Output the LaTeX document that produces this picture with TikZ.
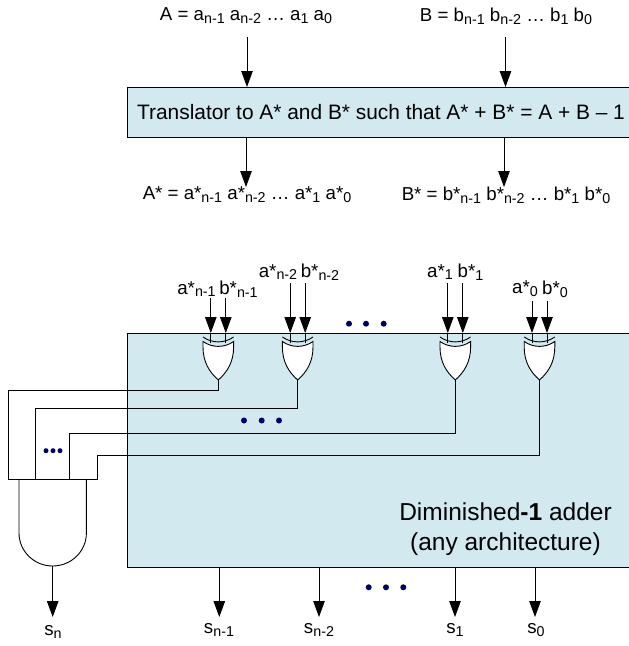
\documentclass[tikz,border=0pt]{standalone}
\usepackage{fontspec}
\setmainfont{Liberation Sans}
\usetikzlibrary{arrows.meta, positioning}
\definecolor{panelblue}{RGB}{210,233,240}
\definecolor{dotblue}{RGB}{0,0,100}
\newcommand{\lo}[1]{\raisebox{-0.28ex}{\fontsize{14.3}{14.3}\selectfont #1}}
% gate body with its two input points and its output point
\newcommand{\xorgate}[2]{%
  \coordinate (#1-a) at (#2-7.5,343);
  \coordinate (#1-b) at (#2+7.5,343);
  \coordinate (#1-out) at (#2,380);
  \draw[gateline] (#2-15.3,337) .. controls (#2-6,343.5) and (#2+6,343.5) .. (#2+15.3,337);
  \draw[gateline, fill=white] (#2-15.3,341.5) .. controls (#2-6,348) and (#2+6,348) .. (#2+15.3,341.5)
    -- (#2+15.3,347) .. controls (#2+15.3,362) and (#2+9,372) .. (#2,380)
    .. controls (#2-9,372) and (#2-15.3,362) .. (#2-15.3,347) -- cycle;
}
\begin{document}
\begin{tikzpicture}[
    x=1pt, y=-1pt,
    panel/.style={rectangle, draw, fill=panelblue, line width=0.9pt, anchor=north west, inner sep=0pt},
    arrow/.style={-{Triangle[length=16pt,width=11.5pt]}, line width=0.8pt},
    wire/.style={line width=0.8pt},
    gateline/.style={line width=0.9pt},
    label/.style={font=\fontsize{18.7}{22}\selectfont, inner sep=0pt},
    dotmark/.style={circle, fill=dotblue, inner sep=0pt, minimum size=6pt}
]
\clip (0,0) rectangle (629,646);

% ==================== TRANSLATOR (Top) ====================
\node[panel, minimum width=502pt, minimum height=50pt] (trans) at (127,87) {};
\node[font=\fontsize{20.9}{24}\selectfont, inner sep=0pt] (transtext) at (381,112) {Translator to A* and B* such that A* + B* = A + B – 1};

\node[label] (inA) at (246,16) {A = a\lo{n-1} a\lo{n-2} … a\lo{1} a\lo{0}};
\node[label] (inB) at (506,16) {B = b\lo{n-1} b\lo{n-2} … b\lo{1} b\lo{0}};
\node[label] (outA) at (247,195) {A* = a*\lo{n-1} a*\lo{n-2} … a*\lo{1} a*\lo{0}};
\node[label] (outB) at (506,195) {B* = b*\lo{n-1} b*\lo{n-2} … b*\lo{1} b*\lo{0}};

\coordinate (inAs) at (247,37);
\coordinate (inBs) at (505.5,37);
\coordinate (inAe) at (247,87);
\coordinate (inBe) at (505.5,87);
\coordinate (outAs) at (246,137);
\coordinate (outBs) at (504,137);
\coordinate (outAe) at (246,187);
\coordinate (outBe) at (504,187);
\draw[arrow] (inAs) -- (inAe);
\draw[arrow] (inBs) -- (inBe);
\draw[arrow] (outAs) -- (outAe);
\draw[arrow] (outBs) -- (outBe);

% ==================== ADDER (Bottom) ====================
\node[panel, minimum width=510pt, minimum height=234pt] (adder) at (127,333) {};
\node[font=\fontsize{24.5}{30}\selectfont, align=center, inner sep=0pt] (addertext) at (505.5,529) {Diminished\textbf{-1} adder\\(any architecture)};

% XOR gates
\xorgate{xa}{218.3}
\xorgate{xb}{297.7}
\xorgate{xc}{455.3}
\xorgate{xd}{539.5}

% Input labels
\node[label] (laa) at (196.5,289) {a*\lo{n-1}};
\node[label] (lab) at (238.5,289) {b*\lo{n-1}};
\node[label] (lba) at (278,272) {a*\lo{n-2}};
\node[label] (lbb) at (320,272) {b*\lo{n-2}};
\node[label] (lca) at (440,272) {a*\lo{1}};
\node[label] (lcb) at (470.5,272) {b*\lo{1}};
\node[label] (lda) at (525,289) {a*\lo{0}};
\node[label] (ldb) at (555,289) {b*\lo{0}};

% Input arrows
\foreach \name/\xpos/\ytop in {xa/218.3/298, xb/297.7/283, xc/455.3/283, xd/539.5/301} {
  \coordinate (\name-as) at (\xpos-7.5,\ytop);
  \coordinate (\name-bs) at (\xpos+7.5,\ytop);
  \coordinate (\name-ae) at (\xpos-7.5,333);
  \coordinate (\name-be) at (\xpos+7.5,333);
  \draw[arrow] (\name-as) -- (\name-ae);
  \draw[arrow] (\name-bs) -- (\name-be);
  \draw[wire] (\name-ae) -- (\name-a);
  \draw[wire] (\name-be) -- (\name-b);
}

% AND gate
\draw[gateline] (19,479) -- (19,533) arc[start angle=180, end angle=360, x radius=33.7, y radius=-33] -- (86.3,479);
\coordinate (andout) at (52.7,566);

% Wires to AND gate
\coordinate (wa) at (8,479);
\coordinate (wb) at (35.7,479);
\coordinate (wc) at (69.7,479);
\coordinate (wd) at (97.7,479);
\draw[wire] (xa-out) -- (218.3,390.5) -| (wa);
\draw[wire] (xb-out) -- (297.7,408) -| (wb);
\draw[wire] (xc-out) -- (455.3,433) -| (wc);
\draw[wire] (xd-out) -- (539.5,455.7) -| (wd);
\draw[wire] (wa) -- (wd);

% Outputs
\node[label] (sn) at (53,632) {s\lo{n}};
\node[label] (sa) at (219,630) {s\lo{n-1}};
\node[label] (sb) at (319,630) {s\lo{n-2}};
\node[label] (sc) at (455,630) {s\lo{1}};
\node[label] (sd) at (536,630) {s\lo{0}};
\coordinate (sne) at (52.7,617);
\draw[arrow] (andout) -- (sne);
\foreach \name/\xpos in {sa/219.3, sb/319, sc/455, sd/535} {
  \coordinate (\name-s) at (\xpos,567);
  \coordinate (\name-e) at (\xpos,617);
  \draw[arrow] (\name-s) -- (\name-e);
}

% Dots
\foreach \xpos/\ypos in {349/323.7, 366/323.7, 383.7/323.7, 244/420.5, 261.7/420.5, 279/420.5, 368.7/587.3, 386/587.3, 403.3/587.3}
  \node[dotmark] at (\xpos,\ypos) {};
\foreach \xpos in {46, 53, 60}
  \node[dotmark, minimum size=5pt] at (\xpos,450.7) {};
\end{tikzpicture}
\end{document}
